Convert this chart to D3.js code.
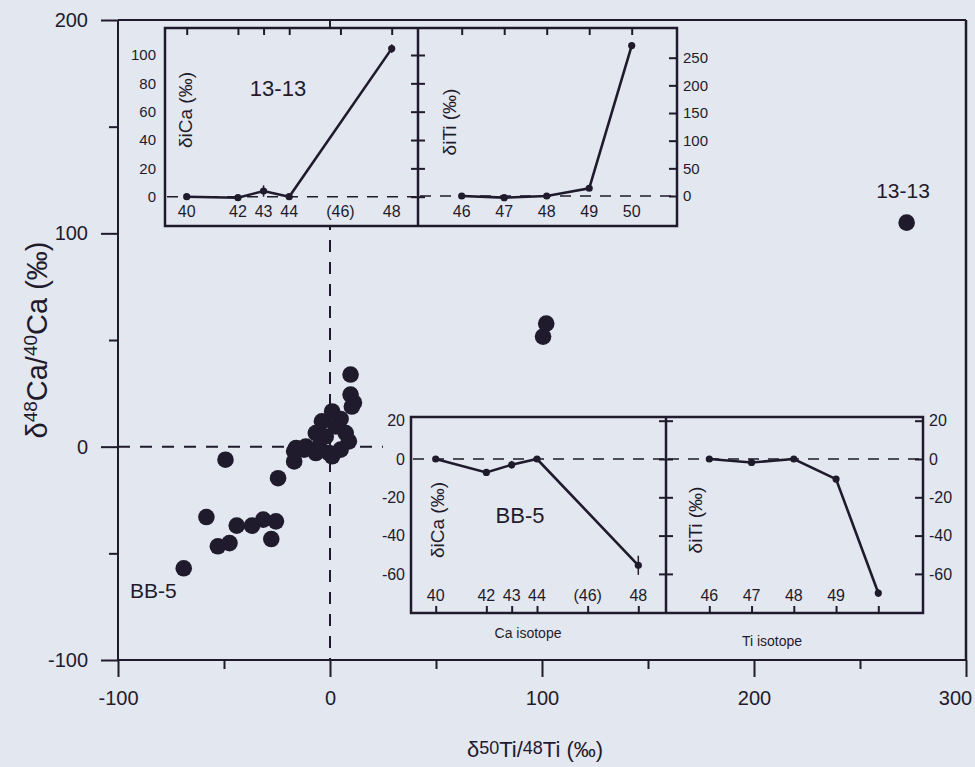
<!DOCTYPE html>
<html>
<head>
<meta charset="utf-8">
<script src="https://cdn.jsdelivr.net/npm/d3@7"></script>
<style>
  body { margin: 0; background: #e3e7ef; }
  svg { display: block; font-family: "Liberation Sans", Arial, sans-serif; }
</style>
</head>
<body>
<div id="chart"></div>
<script>
"use strict";

// main scatter: d50Ti/48Ti (x) against d48Ca/40Ca (y), per mil
const ti50 = [-69, -58.3, -52.9, -47.4, -49.3, -44, -36.8, -31.5, -25.5, -27.7, -24.5,
  -16.9, -16.9, -12.2, -16, -11.4, -6.7, -5.2, -6.7, -3.8, -2, -0.5, 1, 1, 2.7, 5, 5,
  7.4, 8.9, 9.7, 9.7, 11.3, 10.3, 100.5, 102, 272];
const ca48 = [-57, -33, -46.7, -45.2, -6.1, -37, -37, -34.2, -35, -43.3, -14.8,
  -2.2, -6.9, -1.4, -0.6, 0.1, -3, 0, 6.4, 11.9, 4.8, -3, -4.5, 16.5, 9.5, -1.4, 13,
  6.4, 2.5, 33.8, 24.4, 20.6, 18.8, 51.6, 57.7, 105];
const xTicks = [-100, 0, 100, 200, 300];
const xMinor = [-50, 50, 150, 250];
const yTicks = [-100, 0, 100, 200];
const yMinor = [-50, 50, 150];

// insets: isotope patterns
const caMass = [40, 42, 43, 44, 48];
const caTickMass = [40, 42, 43, 44, 46, 48];
const caTickLabels = ["40", "42", "43", "44", "(46)", "48"];
const tiMass = [46, 47, 48, 49, 50];
const tiTickLabelsTop = ["46", "47", "48", "49", "50"];
const tiTickLabelsBottom = ["46", "47", "48", "49", ""];

const ca1313 = [0, -0.7, 4, 0, 104.5];
const ca1313Err = [0, 0, 4, 0, 3];
const ti1313 = [0, -3, 0, 14, 272];
const ti1313Err = [0, 0, 0, 0, 4];
const caBB5 = [0, -7, -3, 0, -55.5];
const caBB5Err = [0, 0, 2, 0, 5];
const tiBB5 = [0, -1.8, 0, -10.5, -70];
const tiBB5Err = [0, 0, 0, 0, 2];

const topCaTicks = [0, 20, 40, 60, 80, 100];
const topTiTicks = [0, 50, 100, 150, 200, 250];
const bottomTicks = [20, 0, -20, -40, -60];

const ink = "#1f1b2d";
const bg = "#e3e7ef";
const plain = d => String(d); // hyphen-minus like the original print

const svg = d3.select("#chart")
  .append("svg")
  .attr("width", 975)
  .attr("height", 767);

const x = d3.scaleLinear().domain([-100, 300]).range([118, 966]);
const y = d3.scaleLinear().domain([-100, 200]).range([660, 20]);

function styleAxis(g, size) {
  g.select(".domain").remove();
  g.selectAll("line").attr("stroke", ink).attr("stroke-width", 2);
  g.selectAll("text").attr("fill", ink).attr("font-size", size);
}

// frame
svg.append("line")
  .attr("x1", x(-100)).attr("x2", x(300)).attr("y1", y(200)).attr("y2", y(200))
  .attr("stroke", ink).attr("stroke-width", 2);
svg.append("line")
  .attr("x1", x(300)).attr("x2", x(300)).attr("y1", y(200)).attr("y2", y(-100))
  .attr("stroke", ink).attr("stroke-width", 2.5);
svg.append("line")
  .attr("x1", x(-100)).attr("x2", x(300)).attr("y1", y(-100)).attr("y2", y(-100))
  .attr("stroke", ink).attr("stroke-width", 2);
svg.append("line")
  .attr("x1", x(-100)).attr("x2", x(-100)).attr("y1", y(200)).attr("y2", y(-100))
  .attr("stroke", ink).attr("stroke-width", 2);

svg.append("g")
  .attr("transform", `translate(0, ${y(-100)})`)
  .call(d3.axisBottom(x).tickValues(xTicks).tickSize(17).tickPadding(14).tickFormat(plain))
  .call(g => styleAxis(g, 20))
  .call(g => g.selectAll(".tick text").filter(d => d === 300).attr("dx", -11));
svg.append("g")
  .attr("transform", `translate(0, ${y(-100)})`)
  .call(d3.axisBottom(x).tickValues(xMinor).tickSize(9).tickFormat(""))
  .call(g => styleAxis(g, 20));
svg.append("g")
  .attr("transform", `translate(${x(-100)}, 0)`)
  .call(d3.axisLeft(y).tickValues(yTicks).tickSize(17).tickPadding(13).tickFormat(plain))
  .call(g => styleAxis(g, 20));
svg.append("g")
  .attr("transform", `translate(${x(-100)}, 0)`)
  .call(d3.axisLeft(y).tickValues(yMinor).tickSize(9).tickFormat(""))
  .call(g => styleAxis(g, 20));

// zero guides
svg.append("line")
  .attr("x1", x(0)).attr("x2", x(0)).attr("y1", y(200)).attr("y2", y(-100))
  .attr("stroke", ink).attr("stroke-width", 2).attr("stroke-dasharray", "12,10");
svg.append("line")
  .attr("x1", x(-100)).attr("x2", x(25)).attr("y1", y(0)).attr("y2", y(0))
  .attr("stroke", ink).attr("stroke-width", 2).attr("stroke-dasharray", "12,10");

// points
svg.append("g")
  .selectAll("circle")
  .data(ti50)
  .enter()
  .append("circle")
  .attr("cx", d => x(d))
  .attr("cy", (d, i) => y(ca48[i]))
  .attr("r", 8.3)
  .attr("fill", ink);

svg.append("text").attr("x", 130).attr("y", 598)
  .attr("font-size", 21).attr("fill", ink).text("BB-5");
svg.append("text").attr("x", 903).attr("y", 198).attr("text-anchor", "middle")
  .attr("font-size", 21).attr("fill", ink).text("13-13");

// axis titles
const xt = svg.append("text")
  .attr("x", 535).attr("y", 757).attr("text-anchor", "middle")
  .attr("font-size", 22).attr("fill", ink);
xt.append("tspan").text("δ");
xt.append("tspan").attr("font-size", 18).attr("dy", -3).text("50");
xt.append("tspan").attr("dy", 3).text("Ti/");
xt.append("tspan").attr("font-size", 18).attr("dy", -3).text("48");
xt.append("tspan").attr("dy", 3).text("Ti (‰)");

const yt = svg.append("text")
  .attr("transform", "translate(47, 340) rotate(-90)")
  .attr("text-anchor", "middle")
  .attr("font-size", 29).attr("fill", ink);
yt.append("tspan").text("δ");
yt.append("tspan").attr("font-size", 19).attr("dy", -10).text("48");
yt.append("tspan").attr("dy", 10).text("Ca/");
yt.append("tspan").attr("font-size", 19).attr("dy", -10).text("40");
yt.append("tspan").attr("dy", 10).text("Ca (‰)");

// one inset panel: line with dots and error bars, dashed zero line
function panel(px, py, xs, ys, err, x0, x1) {
  const g = svg.append("g");
  g.append("line")
    .attr("x1", x0).attr("x2", x1).attr("y1", py(0)).attr("y2", py(0))
    .attr("stroke", ink).attr("stroke-width", 1.6).attr("stroke-dasharray", "11,9");
  g.append("path")
    .datum(xs)
    .attr("d", d3.line().x(d => px(d)).y((d, i) => py(ys[i])))
    .attr("fill", "none").attr("stroke", ink).attr("stroke-width", 2.6);
  g.selectAll("line.err")
    .data(xs.filter((d, i) => err[i] > 0))
    .enter()
    .append("line")
    .attr("class", "err")
    .attr("x1", d => px(d)).attr("x2", d => px(d))
    .attr("y1", d => py(ys[xs.indexOf(d)] - err[xs.indexOf(d)]))
    .attr("y2", d => py(ys[xs.indexOf(d)] + err[xs.indexOf(d)]))
    .attr("stroke", ink).attr("stroke-width", 1.5);
  g.selectAll("circle")
    .data(xs)
    .enter()
    .append("circle")
    .attr("cx", d => px(d))
    .attr("cy", (d, i) => py(ys[i]))
    .attr("r", 3.6)
    .attr("fill", ink);
}

function box(x0, x1, y0, y1) {
  svg.append("rect")
    .attr("x", x0).attr("y", y0).attr("width", x1 - x0).attr("height", y1 - y0)
    .attr("fill", bg).attr("stroke", ink).attr("stroke-width", 2.5);
}

function massLabels(px, vals, labels, ty) {
  svg.append("g")
    .selectAll("text")
    .data(vals)
    .enter()
    .append("text")
    .attr("x", d => px(d))
    .attr("y", ty)
    .attr("text-anchor", "middle")
    .attr("font-size", 16)
    .attr("fill", ink)
    .text((d, i) => labels[i]);
}

// top inset: sample 13-13
const tL = 165, tM = 418, tR = 677, tT = 28, tB = 226;
const tCaX = d3.scaleLinear().domain([40, 48]).range([186.7, 391.7]);
const tCaY = d3.scaleLinear().domain([0, 100]).range([196.7, 55]);
const tTiX = d3.scaleLinear().domain([46, 50]).range([461.7, 631.7]);
const tTiY = d3.scaleLinear().domain([0, 250]).range([196, 57.7]);

box(tL, tR, tT, tB);
svg.append("line").attr("x1", tM).attr("x2", tM).attr("y1", tT).attr("y2", tB)
  .attr("stroke", ink).attr("stroke-width", 2.5);

svg.append("g").attr("transform", `translate(0, ${tT})`)
  .call(d3.axisBottom(tCaX).tickValues(caTickMass).tickSize(7).tickFormat(""))
  .call(g => styleAxis(g, 15));
svg.append("g").attr("transform", `translate(0, ${tT})`)
  .call(d3.axisBottom(tTiX).tickValues(tiMass).tickSize(7).tickFormat(""))
  .call(g => styleAxis(g, 15));
svg.append("g").attr("transform", `translate(${tL}, 0)`)
  .call(d3.axisLeft(tCaY).tickValues(topCaTicks).tickSize(0).tickPadding(9).tickFormat(plain))
  .call(g => styleAxis(g, 15));
svg.append("g").attr("transform", `translate(${tM + 7}, 0)`)
  .call(d3.axisLeft(tCaY).tickValues(topCaTicks).tickSize(14).tickFormat(""))
  .call(g => styleAxis(g, 15));
svg.append("g").attr("transform", `translate(${tR}, 0)`)
  .call(d3.axisLeft(tTiY).tickValues(topTiTicks).tickSize(8).tickFormat(""))
  .call(g => styleAxis(g, 15));
svg.append("g").attr("transform", `translate(${tR}, 0)`)
  .call(d3.axisRight(tTiY).tickValues(topTiTicks).tickSize(0).tickPadding(6).tickFormat(plain))
  .call(g => styleAxis(g, 15));

massLabels(tCaX, caTickMass, caTickLabels, 217);
massLabels(tTiX, tiMass, tiTickLabelsTop, 217);

panel(tCaX, tCaY, caMass, ca1313, ca1313Err, tL + 2, tM - 2);
panel(tTiX, tTiY, tiMass, ti1313, ti1313Err, tM + 2, tR - 2);

svg.append("text").attr("x", 278).attr("y", 96).attr("text-anchor", "middle")
  .attr("font-size", 22).attr("fill", ink).text("13-13");
svg.append("text").attr("transform", "translate(192, 110) rotate(-90)")
  .attr("text-anchor", "middle").attr("font-size", 19).attr("fill", ink).text("δiCa (‰)");
svg.append("text").attr("transform", "translate(456, 122) rotate(-90)")
  .attr("text-anchor", "middle").attr("font-size", 19).attr("fill", ink).text("δiTi (‰)");

// bottom inset: sample BB-5
const bL = 411, bM = 666, bR = 923, bT = 417, bB = 613;
const bCaX = d3.scaleLinear().domain([40, 48]).range([435.7, 638.3]);
const bTiX = d3.scaleLinear().domain([46, 50]).range([709.3, 878.3]);
const bY = d3.scaleLinear().domain([-60, 20]).range([573.9, 420.7]);

box(bL, bR, bT, bB);
svg.append("line").attr("x1", bM).attr("x2", bM).attr("y1", bT).attr("y2", bB)
  .attr("stroke", ink).attr("stroke-width", 2.5);

svg.append("g").attr("transform", `translate(0, ${bB})`)
  .call(d3.axisTop(bCaX).tickValues(caTickMass).tickSize(7).tickFormat(""))
  .call(g => styleAxis(g, 16));
svg.append("g").attr("transform", `translate(0, ${bB})`)
  .call(d3.axisTop(bTiX).tickValues(tiMass).tickSize(7).tickFormat(""))
  .call(g => styleAxis(g, 16));
svg.append("g").attr("transform", `translate(${bL}, 0)`)
  .call(d3.axisLeft(bY).tickValues(bottomTicks).tickSize(0).tickPadding(6).tickFormat(plain))
  .call(g => styleAxis(g, 16));
svg.append("g").attr("transform", `translate(${bM + 7}, 0)`)
  .call(d3.axisLeft(bY).tickValues(bottomTicks).tickSize(14).tickFormat(""))
  .call(g => styleAxis(g, 16));
svg.append("g").attr("transform", `translate(${bR}, 0)`)
  .call(d3.axisLeft(bY).tickValues(bottomTicks).tickSize(8).tickFormat(""))
  .call(g => styleAxis(g, 16));
svg.append("g").attr("transform", `translate(${bR}, 0)`)
  .call(d3.axisRight(bY).tickValues(bottomTicks).tickSize(0).tickPadding(6).tickFormat(plain))
  .call(g => styleAxis(g, 16));

massLabels(bCaX, caTickMass, caTickLabels, 601);
massLabels(bTiX, tiMass, tiTickLabelsBottom, 601);

panel(bCaX, bY, caMass, caBB5, caBB5Err, bL + 2, bM - 2);
panel(bTiX, bY, tiMass, tiBB5, tiBB5Err, bM + 2, bR - 2);

svg.append("text").attr("x", 520).attr("y", 523).attr("text-anchor", "middle")
  .attr("font-size", 22).attr("fill", ink).text("BB-5");
svg.append("text").attr("transform", "translate(444, 520) rotate(-90)")
  .attr("text-anchor", "middle").attr("font-size", 19).attr("fill", ink).text("δiCa (‰)");
svg.append("text").attr("transform", "translate(702, 520) rotate(-90)")
  .attr("text-anchor", "middle").attr("font-size", 19).attr("fill", ink).text("δiTi (‰)");
svg.append("text").attr("x", 528).attr("y", 638).attr("text-anchor", "middle")
  .attr("font-size", 14).attr("fill", ink).text("Ca isotope");
svg.append("text").attr("x", 772).attr("y", 646).attr("text-anchor", "middle")
  .attr("font-size", 14).attr("fill", ink).text("Ti isotope");
</script>
</body>
</html>
